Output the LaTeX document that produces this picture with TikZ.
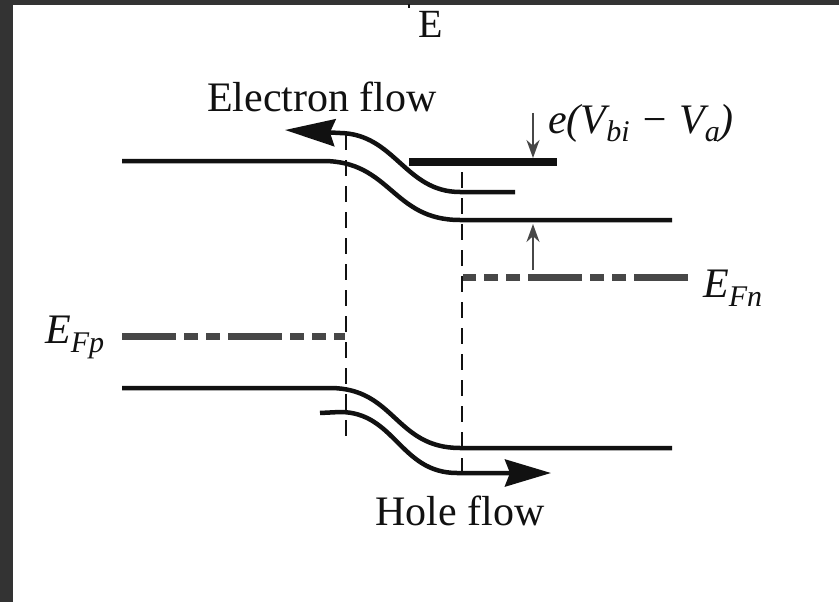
\documentclass[tikz,border=0pt]{standalone}
\usepackage{fontspec}
\setmainfont{Liberation Serif}
\usetikzlibrary{arrows.meta}
\definecolor{framegray}{HTML}{333333}
\definecolor{levgray}{HTML}{474747}
\definecolor{ink}{HTML}{111111}
\newcommand\lowsub[1]{\raisebox{-9pt}{\fontsize{30}{30}\selectfont #1}}
\begin{document}
\begin{tikzpicture}[x=1pt,y=-1pt,
  band/.style={line width=4.5pt, draw=ink},
  flowarrow/.style={line width=4.5pt, draw=ink, -{Stealth[length=50pt,width=27pt,inset=5pt]}},
  holearrow/.style={line width=4.5pt, draw=ink, -{Stealth[length=46pt,width=27pt,inset=5pt]}},
  fermi/.style={line width=7pt, draw=levgray, dash pattern=on 54pt off 8pt on 14pt off 8pt on 14pt off 8pt},
  guide/.style={line width=2pt, draw=ink, dash pattern=on 16pt off 10pt},
  gaparrow/.style={line width=2pt, draw=levgray, -{Stealth[length=18pt,width=13pt]}},
  lbl/.style={font=\fontsize{42}{48}\selectfont, inner sep=0pt, text=ink},
]
\useasboundingbox (0,0) rectangle (839,602);
\fill[white] (0,0) rectangle (839,602);
\fill[framegray] (0,0) rectangle (839,5);
\fill[framegray] (0,0) rectangle (13,602);
\draw[line width=2pt, ink] (409,4) -- (409,8);

% coordinates
\coordinate (cbL) at (122,161);
\coordinate (cbA) at (323,161);
\coordinate (cbB) at (460,220);
\coordinate (cbR) at (672,220);
\coordinate (vbL) at (122,388);
\coordinate (vbA) at (330,388);
\coordinate (vbB) at (460,448);
\coordinate (vbR) at (672,448);
\coordinate (eS) at (515,192);
\coordinate (eA) at (460,192);
\coordinate (eB) at (340,133);
\coordinate (eT) at (285,130);
\coordinate (hS) at (320,413);
\coordinate (hA) at (340,412);
\coordinate (hB) at (457,473);
\coordinate (hT) at (551,473);
\coordinate (barL) at (409,162);
\coordinate (barR) at (557,162);
\coordinate (fpL) at (122,336);
\coordinate (fpR) at (345,336);
\coordinate (fnL) at (463,277);
\coordinate (fnR) at (688,277);
\coordinate (d1T) at (346,134);
\coordinate (d1B) at (346,438);
\coordinate (d2T) at (462,172);
\coordinate (d2B) at (462,480);
\coordinate (a1S) at (533,113);
\coordinate (a1E) at (533,158);
\coordinate (a2S) at (533,270);
\coordinate (a2E) at (533,224);

% dashed guides
\draw[guide] (d1T) -- (d1B);
\draw[guide] (d2T) -- (d2B);

% bands
\draw[band] (cbL) -- (cbA) .. controls (391,161) and (392,220) .. (cbB) -- (cbR);
\draw[band] (vbL) -- (vbA) .. controls (395,388) and (395,448) .. (vbB) -- (vbR);

% flows
\draw[flowarrow] (eS) -- (eA) .. controls (405,192) and (395,134) .. (eB) -- (eT);
\draw[holearrow] (hS) -- (hA) .. controls (395,412) and (400,473) .. (hB) -- (hT);

% bar
\draw[line width=8pt, ink] (barL) -- (barR);

% fermi levels
\draw[fermi] (fpL) -- (fpR);
\draw[fermi] (fnR) -- (fnL);

% gap arrows
\draw[gaparrow] (a1S) -- (a1E);
\draw[gaparrow] (a2S) -- (a2E);

% labels
\node[lbl, font=\fontsize{40}{46}\selectfont, anchor=base] (Elab) at (431,38) {E};
\node[lbl, anchor=base west] (eflow) at (207,111) {Electron flow};
\node[lbl, anchor=base west] (hflow) at (375,525) {Hole flow};
\node[lbl, anchor=base west] (vbi) at (548,133) {\itshape e(V\lowsub{bi} − V\lowsub{a})};
\node[lbl, anchor=base west] (efn) at (703,297) {\itshape E\lowsub{Fn}};
\node[lbl, anchor=base west] (efp) at (45,343) {\itshape E\lowsub{Fp}};
\end{tikzpicture}
\end{document}
